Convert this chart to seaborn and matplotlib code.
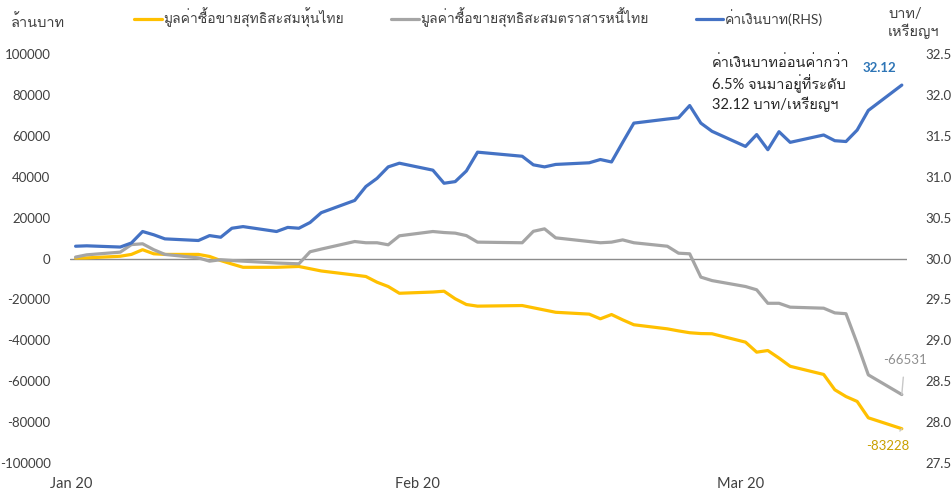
import matplotlib
matplotlib.use("Agg")
import matplotlib.pyplot as plt
import matplotlib.dates as mdates
from matplotlib import font_manager
from matplotlib.ft2font import FT2Font
from matplotlib.lines import Line2D
import pandas as pd
import seaborn as sns

# Trading days, Jan 2 - Mar 16, 2020 (Feb 10 market holiday)
dates = [
    "2020-01-02", "2020-01-03", "2020-01-06", "2020-01-07", "2020-01-08", "2020-01-09",
    "2020-01-10", "2020-01-13", "2020-01-14", "2020-01-15", "2020-01-16", "2020-01-17",
    "2020-01-20", "2020-01-21", "2020-01-22", "2020-01-23", "2020-01-24", "2020-01-27",
    "2020-01-28", "2020-01-29", "2020-01-30", "2020-01-31",
    "2020-02-03", "2020-02-04", "2020-02-05", "2020-02-06", "2020-02-07", "2020-02-11",
    "2020-02-12", "2020-02-13", "2020-02-14", "2020-02-17", "2020-02-18", "2020-02-19",
    "2020-02-20", "2020-02-21", "2020-02-24", "2020-02-25", "2020-02-26", "2020-02-27",
    "2020-02-28",
    "2020-03-02", "2020-03-03", "2020-03-04", "2020-03-05", "2020-03-06", "2020-03-09",
    "2020-03-10", "2020-03-11", "2020-03-12", "2020-03-13", "2020-03-16",
]

# Cumulative net foreign flows, million baht
stock_flow = [
    200, 300, 1100, 2000, 4300, 2300, 2000, 2000, 1000, -1000, -2700, -4300,
    -4300, -4100, -3900, -5000, -6100, -8100, -8800, -11600, -13700, -17000,
    -16400, -16000, -19700, -22500, -23300, -23000, -24100, -25200, -26300, -27200,
    -29500, -27400, -30000, -32400, -34400, -35400, -36300, -36700, -36800,
    -40900, -45800, -45000, -48700, -52700, -56700, -64200, -67500, -69900, -77900, -83228,
]
bond_flow = [
    700, 1800, 3100, 6800, 7200, 4300, 2000, 300, -1300, -600, -1000, -1300,
    -2200, -2400, -2600, 3300, 4600, 8300, 7700, 7700, 6700, 11100,
    13200, 12700, 12400, 11200, 8000, 7700, 13300, 14500, 10100, 8300,
    7700, 8000, 9100, 7700, 6000, 2600, 2300, -9100, -10800,
    -13700, -15300, -21900, -21900, -23800, -24300, -26600, -27000, -41500, -56900, -66531,
]
# THB per USD (right axis)
thb_usd = [
    30.15, 30.155, 30.14, 30.19, 30.33, 30.29, 30.24, 30.22, 30.28, 30.26, 30.37, 30.39,
    30.33, 30.38, 30.37, 30.44, 30.56, 30.71, 30.88, 30.98, 31.12, 31.165,
    31.08, 30.92, 30.94, 31.07, 31.30, 31.25, 31.145, 31.12, 31.15, 31.17,
    31.21, 31.18, 31.42, 31.655, 31.705, 31.72, 31.87, 31.655, 31.555,
    31.37, 31.515, 31.33, 31.55, 31.42, 31.51, 31.44, 31.43, 31.57, 31.81, 32.12,
]

series_names = [
    "มูลค่าซื้อขายสุทธิสะสมหุ้นไทย",
    "มูลค่าซื้อขายสุทธิสะสมตราสารหนี้ไทย",
    "ค่าเงินบาท(RHS)",
]
left_ticks = [-100000, -80000, -60000, -40000, -20000, 0, 20000, 40000, 60000, 80000, 100000]
right_ticks = [27.5, 28.0, 28.5, 29.0, 29.5, 30.0, 30.5, 31.0, 31.5, 32.0, 32.5]
month_ticks = ["2020-01-01", "2020-02-01", "2020-03-01"]

left_unit = "ล้านบาท"
right_unit = "บาท/\nเหรียญฯ"
note = "ค่าเงินบาทอ่อนค่ากว่า\n6.5% จนมาอยู่ที่ระดับ\n32.12 บาท/เหรียญฯ"

YELLOW = "#FFC000"
GRAY = "#A5A5A5"
BLUE = "#4472C4"

sns.set_theme(style="white")


def families_with(char):
    found = []
    for f in font_manager.fontManager.ttflist:
        try:
            if ord(char) in FT2Font(f.fname).get_charmap() and f.name not in found:
                found.append(f.name)
        except Exception:
            pass
    return found


thai_fonts = families_with("ก")
plt.rcParams["font.family"] = ["Lato"] + thai_fonts + ["DejaVu Sans"]
plt.rcParams["text.color"] = "#404040"

df = pd.DataFrame({
    "date": pd.to_datetime(dates),
    "stock": stock_flow,
    "bond": bond_flow,
    "thb": thb_usd,
})

fig = plt.figure(figsize=(9.51, 4.93), dpi=100)
ax = fig.add_axes([70 / 951, 30 / 493, 837.4 / 951, 409 / 493])
ax2 = ax.twinx()

ax.axhline(0, color="#8C8C8C", lw=1.0, zorder=1)
sns.lineplot(data=df, x="date", y="stock", ax=ax, color=YELLOW, lw=2.3, zorder=3)
sns.lineplot(data=df, x="date", y="bond", ax=ax, color=GRAY, lw=2.3, zorder=3)
sns.lineplot(data=df, x="date", y="thb", ax=ax2, color=BLUE, lw=2.3, zorder=3)

ax.set_ylim(-100000, 100000)
ax2.set_ylim(27.5, 32.5)
ax.set_yticks(left_ticks)
ax.set_yticklabels([f"{v:d}" for v in left_ticks])
ax2.set_yticks(right_ticks)
ax2.set_yticklabels([f"{v:.1f}" for v in right_ticks])

ax.set_xlim(pd.Timestamp("2020-01-01 12:00"), pd.Timestamp("2020-03-16 12:00"))
ax.set_xticks(pd.to_datetime(month_ticks) + pd.Timedelta(hours=14))
ax.xaxis.set_major_formatter(mdates.DateFormatter("%b %y"))

for a in (ax, ax2):
    a.set_xlabel("")
    a.set_ylabel("")
    for s in a.spines.values():
        s.set_visible(False)
    a.grid(False)
    a.tick_params(length=0, labelsize=9.5, colors="#404040")
ax.tick_params(axis="y", pad=14)
ax2.tick_params(axis="y", pad=13)
ax.tick_params(axis="x", pad=10, labelsize=10.5)
ax.patch.set_visible(False)

# Value labels at the last observation
last_date = df["date"].iloc[-1]
ax2.annotate(f"{df['thb'].iloc[-1]:.2f}", (last_date, df["thb"].iloc[-1]),
             xytext=(-22, 17), textcoords="offset pixels", ha="center", va="center",
             color="#2E75B6", fontsize=9.5, fontweight="bold")
ax.annotate(f"{df['bond'].iloc[-1]:d}", (last_date, df["bond"].iloc[-1]),
            xytext=(3, 35), textcoords="offset pixels", ha="center", va="center",
            color="#8F8F8F", fontsize=9.5,
            arrowprops=dict(arrowstyle="-", color="#C8C8C8", lw=1, shrinkA=6, shrinkB=0))
ax.annotate(f"{df['stock'].iloc[-1]:d}", (last_date, df["stock"].iloc[-1]),
            xytext=(-14, -17), textcoords="offset pixels", ha="center", va="center",
            color="#C9A000", fontsize=9.5,
            arrowprops=dict(arrowstyle="-", color="#C8C8C8", lw=1, shrinkA=5, shrinkB=0))

# Legend across the top
handles = [Line2D([], [], color=c, lw=2.3) for c in (YELLOW, GRAY, BLUE)]
fig.legend(handles, series_names, loc="center", bbox_to_anchor=(0.503, 1 - 18 / 493),
           ncol=3, frameon=False, fontsize=10, handlelength=2.0, handletextpad=0.1,
           columnspacing=3.4)

fig.text(38 / 951, 1 - 22 / 493, left_unit, ha="center", va="center", fontsize=10.5)
fig.text(888 / 951, 1 - 23 / 493, right_unit, ha="left", va="center", fontsize=10.5,
         linespacing=1.25)
fig.text(712 / 951, 1 - 55 / 493, note, ha="left", va="top", fontsize=10.5,
         linespacing=1.3, color="#262626")

fig.savefig("out.png", dpi=100)
